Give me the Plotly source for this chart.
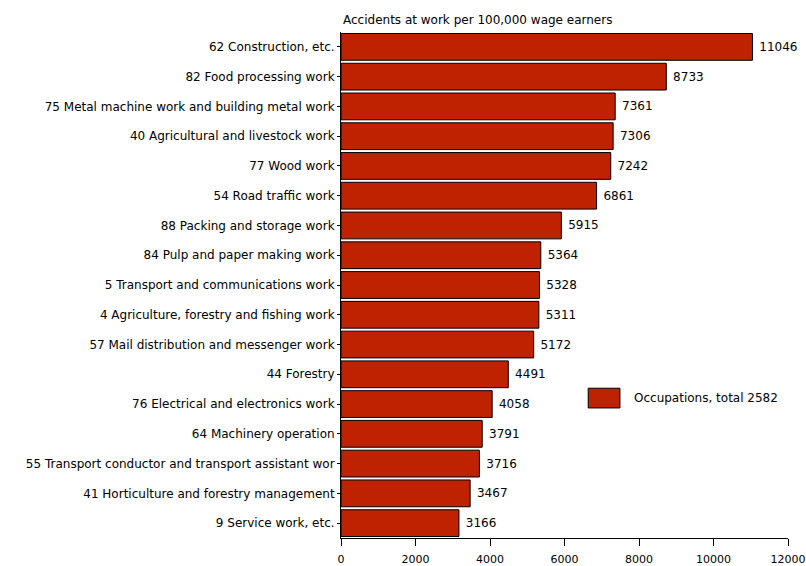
import plotly.graph_objects as go

occupations = [
    "62 Construction, etc.",
    "82 Food processing work",
    "75 Metal machine work and building metal work",
    "40 Agricultural and livestock work",
    "77 Wood work",
    "54 Road traffic work",
    "88 Packing and storage work",
    "84 Pulp and paper making work",
    "5 Transport and communications work",
    "4 Agriculture, forestry and fishing work",
    "57 Mail distribution and messenger work",
    "44 Forestry",
    "76 Electrical and electronics work",
    "64 Machinery operation",
    "55 Transport conductor and transport assistant wor",
    "41 Horticulture and forestry management",
    "9 Service work, etc.",
]
accidents = [11046, 8733, 7361, 7306, 7242, 6861, 5915, 5364, 5328,
             5311, 5172, 4491, 4058, 3791, 3716, 3467, 3166]
x_ticks = [0, 2000, 4000, 6000, 8000, 10000, 12000]
legend_label = "Occupations, total 2582"
axis_title = "Accidents at work per 100,000 wage earners"

BAR = "#BE2200"
FONT = "DejaVu Sans, Verdana, sans-serif"
FS = 12

fig = go.Figure()
fig.add_trace(go.Bar(
    x=accidents,
    y=occupations,
    orientation="h",
    marker=dict(color=BAR, line=dict(color="black", width=1)),
    text=[" " + str(v) for v in accidents],
    textposition="outside",
    textfont=dict(family=FONT, size=FS, color="black"),
    cliponaxis=False,
    showlegend=False,
    hoverinfo="x+y",
))

fig.update_layout(
    width=806, height=566,
    margin=dict(l=341, r=18, t=32, b=28),
    paper_bgcolor="white", plot_bgcolor="white",
    font=dict(family=FONT, size=FS, color="black"),
    bargap=0.1,
    showlegend=False,
    xaxis=dict(
        range=[0, 12000], tickvals=x_ticks, ticktext=[str(t) for t in x_ticks],
        showgrid=False, zeroline=False, showline=True, linecolor="black",
        linewidth=1, ticks="outside", ticklen=7, tickcolor="black",
        tickfont=dict(size=11), automargin=False,
        ticklabeloverflow="allow", ticklabelstandoff=4,
    ),
    yaxis=dict(
        categoryorder="array", categoryarray=occupations,
        autorange="reversed", showgrid=False, zeroline=False,
        showline=True, linecolor="black", linewidth=1,
        ticks="outside", ticklen=3, tickcolor="black",
        tickfont=dict(size=FS), automargin=False,
    ),
    annotations=[
        dict(text=axis_title, xref="paper", yref="paper", x=0, y=1,
             xanchor="left", yanchor="bottom", yshift=3, showarrow=False,
             font=dict(size=FS)),
        dict(text=legend_label, xref="paper", yref="paper", x=0.651,
             y=0.277, xanchor="left", yanchor="middle", showarrow=False,
             font=dict(size=FS)),
    ],
    shapes=[
        dict(type="rect", xref="paper", yref="paper", x0=0.553, x1=0.624,
             y0=0.257, y1=0.296, fillcolor=BAR,
             line=dict(color="black", width=1)),
    ],
)

fig.write_html("out.html")
